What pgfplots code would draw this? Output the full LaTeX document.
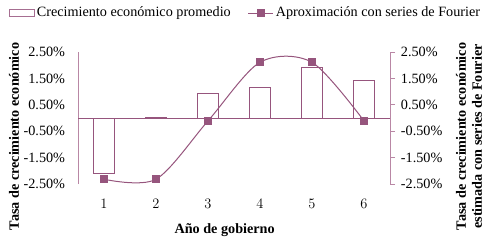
\documentclass[border=0pt]{standalone}
\usepackage{pgfplots}
\pgfplotsset{compat=1.18}
\usepackage{fontspec}
\setmainfont{Liberation Serif}
\definecolor{mauve}{RGB}{150,85,125}
\definecolor{axcol}{RGB}{185,135,165}
\begin{document}
\fontsize{14.2pt}{16pt}\selectfont
\begin{tikzpicture}[font=\fontsize{14.2pt}{16pt}\selectfont]
\useasboundingbox (0,0) rectangle (486pt,244pt);
\begin{axis}[
  at={(78pt,60pt)}, anchor=south west,
  scale only axis, width=312pt, height=132pt,
  xmin=0.5, xmax=6.5, ymin=-2.5, ymax=2.5,
  axis lines*=left,
  x axis line style={draw=none},
  y axis line style={draw=axcol, line width=1pt},
  xtick={1,...,6}, xtick style={draw=none},
  ytick={-2.5,-1.5,-0.5,0.5,1.5,2.5},
  yticklabels={-2.50\%,-1.50\%,-0.50\%,0.50\%,1.50\%,2.50\%},
  ytick style={draw=none},
  yticklabel style={xshift=-8pt},
  xticklabel style={yshift=-10pt},
  extra y ticks={0}, extra y tick labels={},
  extra y tick style={grid=major, major grid style={draw=mauve, line width=1pt}, tick style={draw=none}},
  ylabel={\bfseries Tasa de crecimiento económico},
  ylabel style={at={(axis description cs:-0.205,0.36)}, anchor=center},
  xlabel={\bfseries Año de gobierno},
  xlabel style={at={(axis description cs:0.47,-0.35)}, anchor=center},
  clip=false,
]
\addplot[ybar, bar width=21pt, draw=mauve, fill=white, line width=0.8pt] coordinates {(1,-2.08) (2,0.03) (3,0.93) (4,1.17) (5,1.91) (6,1.43)};
\end{axis}
\begin{axis}[
  at={(78pt,60pt)}, anchor=south west,
  scale only axis, width=312pt, height=132pt,
  xmin=0.5, xmax=6.5, ymin=-2.5, ymax=2.5,
  axis y line*=right, axis x line=none,
  y axis line style={draw=axcol, line width=1pt},
  ytick={-2.5,-1.5,-0.5,0.5,1.5,2.5},
  yticklabels={-2.50\%,-1.50\%,-0.50\%,0.50\%,1.50\%,2.50\%},
  ytick style={draw=axcol, line width=1pt},
  tick align=outside, major tick length=5pt,
  yticklabel style={xshift=1pt},
  ylabel={Tasa de crecimiento económico\\estimada con series de Fourier},
  ylabel style={at={(axis description cs:1.253,0.36)}, anchor=center, align=center, font=\fontsize{14.2pt}{16pt}\selectfont\bfseries},
  legend columns=2,
  legend style={at={(axis description cs:0.537,1.295)}, anchor=center, draw=none, fill=none,
    /tikz/every even column/.append style={column sep=15pt}},
  legend cell align=left,
  clip=false,
]
\addlegendimage{legend image code/.code={\draw[mauve!85, line width=0.8pt, fill=white] (0pt,-3.5pt) rectangle (25pt,3.5pt);}}
\addlegendentry{Crecimiento económico promedio}
\addplot[mauve, line width=1pt, smooth, tension=0.5, mark=square*, mark size=3.5pt, mark options={fill=mauve, draw=mauve},
  legend image code/.code={\draw[mauve, line width=1pt] (0pt,0pt) -- (25pt,0pt); \fill[mauve] (9pt,-3.5pt) rectangle (16pt,3.5pt);}]
  coordinates {(1,-2.32) (2,-2.32) (3,-0.11) (4,2.11) (5,2.11) (6,-0.11)};
\addlegendentry{Aproximación con series de Fourier}
\end{axis}
\end{tikzpicture}
\end{document}
